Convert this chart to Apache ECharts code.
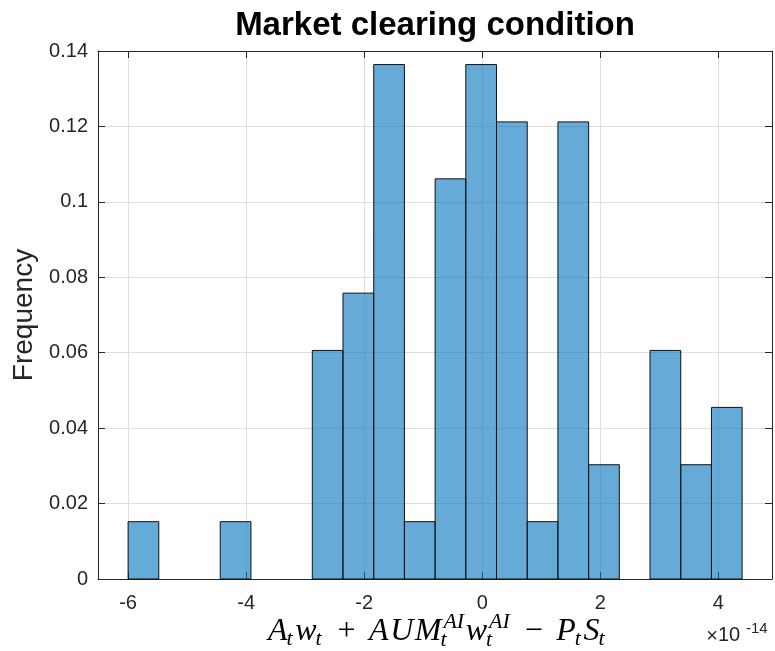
<!DOCTYPE html>
<html>
<head>
<meta charset="utf-8">
<script src="https://cdn.jsdelivr.net/npm/echarts@6/dist/echarts.min.js"></script>
<style>
    html, body { margin: 0; padding: 0; background: #fff; }
    #chart { width: 775px; height: 651px; }
</style>
</head>
<body>
<div id="chart"></div>
<script>
// histogram bin edges, in units of 1e-14
var binEdges = [-6.000, -5.480, -4.960, -4.439, -3.919, -3.399, -2.879, -2.359, -1.838, -1.318,
    -0.798, -0.278, 0.242, 0.763, 1.283, 1.803, 2.323, 2.843, 3.364, 3.884, 4.404];
// frequency of each bin (20 bins)
var frequency = [0.0152, 0, 0, 0.0152, 0, 0, 0.0606, 0.0758, 0.1364, 0.0152,
    0.1061, 0.1364, 0.1212, 0.0152, 0.1212, 0.0303, 0, 0.0606, 0.0303, 0.0455];
var xRange = [-6.51, 4.91];
var yTicks = [0, 0.02, 0.04, 0.06, 0.08, 0.1, 0.12, 0.14];

var textColor = '#262626';
var barFill = 'rgba(0,114,189,0.6)';

// [x0, x1, freq] for the custom series
var binData = [];
for (var i = 0; i < frequency.length; i++) {
    binData.push([binEdges[i], binEdges[i + 1], frequency[i]]);
}

// latex x label: A_t w_t + AUM_t^{AI} w_t^{AI} - P_t S_t
// each entry: main glyph, optional sub / sup, or an operator
var mathPieces = [
    {m: 'A', sub: 't'}, {m: 'w', sub: 't'}, {op: '+'},
    {m: 'A'}, {m: 'U'}, {m: 'M', sub: 't', sup: 'AI'}, {m: 'w', sub: 't', sup: 'AI'},
    {op: '\u2212'},
    {m: 'P', sub: 't'}, {m: 'S', sub: 't'}
];
var labelLeft = 268, labelRight = 603, baseY = 642;
var mainSize = 32, smallSize = 22;
var serif = '"Liberation Serif", "Times New Roman", serif';
var mainFont = 'italic ' + mainSize + 'px ' + serif;
var smallFont = 'italic ' + smallSize + 'px ' + serif;
var opFont = mainSize + 'px ' + serif;

var measureCtx = document.createElement('canvas').getContext('2d');
function textWidth(t, font) {
    measureCtx.font = font;
    return measureCtx.measureText(t).width;
}

function buildMathLabel() {
    var letterGap = 1.5;
    // natural width first, to find spacing around the operators
    var natural = 0, nOps = 0;
    mathPieces.forEach(function (p) {
        if (p.op) { natural += textWidth(p.op, opFont); nOps++; return; }
        var w = textWidth(p.m, mainFont);
        var tail = Math.max(p.sub ? textWidth(p.sub, smallFont) : 0, p.sup ? textWidth(p.sup, smallFont) : 0);
        natural += w + tail + letterGap;
    });
    var opSpace = Math.max(4, (labelRight - labelLeft - natural) / (nOps * 2));
    var els = [];
    var x = labelLeft;
    function piece(t, px, base, font, size) {
        els.push({
            type: 'text',
            style: {
                text: t, x: px, y: base - 0.34 * size, fill: '#000', font: font,
                align: 'left', verticalAlign: 'middle'
            }
        });
    }
    mathPieces.forEach(function (p) {
        if (p.op) {
            x += opSpace;
            piece(p.op, x, baseY, opFont, mainSize);
            x += textWidth(p.op, opFont) + opSpace;
            return;
        }
        piece(p.m, x, baseY, mainFont, mainSize);
        x += textWidth(p.m, mainFont);
        var tail = 0;
        if (p.sub) {
            piece(p.sub, x - 1, baseY + (p.sup ? 6 : 5), smallFont, smallSize);
            tail = textWidth(p.sub, smallFont);
        }
        if (p.sup) {
            piece(p.sup, x + 2, baseY - 12, smallFont, smallSize);
            tail = Math.max(tail, textWidth(p.sup, smallFont) + 2);
        }
        x += tail + letterGap;
    });
    return els;
}

var graphics = buildMathLabel();
// axis exponent
graphics.push({
    type: 'text',
    style: {text: '\u00d7', x: 712, y: 636, fill: textColor, font: '20px "Liberation Sans", Arial, sans-serif',
        align: 'center', verticalAlign: 'middle'}
});
graphics.push({
    type: 'text',
    style: {text: '10', x: 718, y: 635, fill: textColor, font: '20px "Liberation Sans", Arial, sans-serif',
        align: 'left', verticalAlign: 'middle'}
});
graphics.push({
    type: 'text',
    style: {text: '-14', x: 746, y: 629, fill: textColor, font: '15px "Liberation Sans", Arial, sans-serif',
        align: 'left', verticalAlign: 'middle'}
});

var myChart = echarts.init(document.getElementById('chart'), null, {renderer: 'canvas'});

var axisLineStyle = {color: textColor, width: 1};

var option = {
    backgroundColor: '#fff',
    animation: false,
    title: {
        text: 'Market clearing condition',
        left: 435,
        top: 9,
        padding: 0,
        textAlign: 'center',
        textStyle: {
            fontFamily: '"Liberation Sans", Arial, sans-serif',
            fontWeight: 'bold',
            fontSize: 33,
            color: '#000'
        }
    },
    grid: {left: 98, right: 3, top: 51, bottom: 72, containLabel: false},
    xAxis: [
        {
            type: 'value',
            min: xRange[0],
            max: xRange[1],
            splitNumber: 5,
            axisLine: {show: true, onZero: false, lineStyle: axisLineStyle},
            axisTick: {show: true, inside: true, length: 7, lineStyle: axisLineStyle},
            axisLabel: {
                margin: 14,
                color: textColor,
                fontSize: 20,
                fontFamily: '"Liberation Sans", Arial, sans-serif',
                formatter: function (v) {
                    return Math.abs(v - Math.round(v)) < 1e-6 ? String(Math.round(v)) : '';
                }
            },
            splitLine: {show: true, lineStyle: {color: '#dedede', width: 1}}
        },
        {
            type: 'value',
            position: 'top',
            min: xRange[0],
            max: xRange[1],
            splitNumber: 5,
            axisLine: {show: true, onZero: false, lineStyle: axisLineStyle},
            axisTick: {show: true, inside: true, length: 7, lineStyle: axisLineStyle},
            axisLabel: {show: false},
            splitLine: {show: false}
        }
    ],
    yAxis: [
        {
            type: 'value',
            min: yTicks[0],
            max: yTicks[yTicks.length - 1],
            interval: 0.02,
            name: 'Frequency',
            nameLocation: 'middle',
            nameGap: 58,
            nameTextStyle: {
                fontSize: 28,
                color: textColor,
                fontFamily: '"Liberation Sans", Arial, sans-serif'
            },
            axisLine: {show: true, onZero: false, lineStyle: axisLineStyle},
            axisTick: {show: true, inside: true, length: 7, lineStyle: axisLineStyle},
            axisLabel: {
                margin: 10,
                color: textColor,
                fontSize: 20,
                fontFamily: '"Liberation Sans", Arial, sans-serif'
            },
            splitLine: {show: true, lineStyle: {color: '#dedede', width: 1}}
        },
        {
            type: 'value',
            position: 'right',
            min: yTicks[0],
            max: yTicks[yTicks.length - 1],
            interval: 0.02,
            axisLine: {show: true, onZero: false, lineStyle: axisLineStyle},
            axisTick: {show: true, inside: true, length: 7, lineStyle: axisLineStyle},
            axisLabel: {show: false},
            splitLine: {show: false}
        }
    ],
    series: [
        {
            type: 'custom',
            xAxisIndex: 0,
            yAxisIndex: 0,
            data: binData,
            encode: {x: [0, 1], y: 2},
            renderItem: function (params, api) {
                var y = api.value(2);
                if (!y) return null;
                var p0 = api.coord([api.value(0), y]);
                var p1 = api.coord([api.value(1), 0]);
                return {
                    type: 'rect',
                    shape: {x: p0[0], y: p0[1], width: p1[0] - p0[0], height: p1[1] - p0[1]},
                    style: {fill: barFill, stroke: '#111', lineWidth: 1}
                };
            }
        }
    ],
    graphic: graphics
};

myChart.setOption(option);
</script>
</body>
</html>
